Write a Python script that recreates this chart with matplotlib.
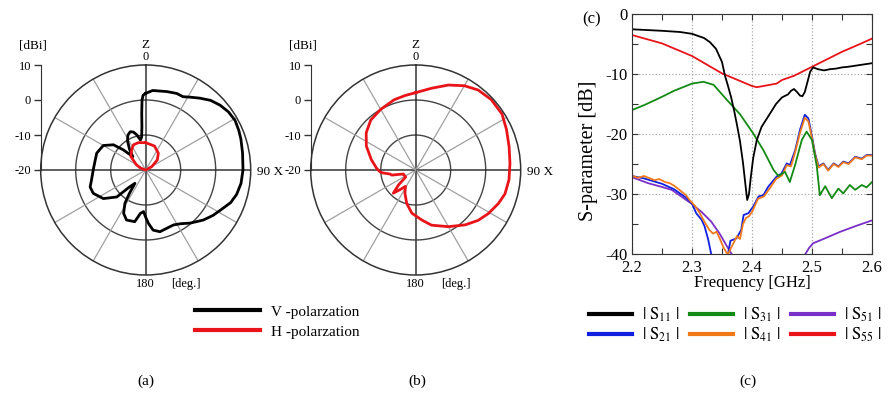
import numpy as np
import matplotlib.pyplot as plt
from matplotlib.lines import Line2D
from matplotlib.ticker import MultipleLocator

plt.rcParams['font.family'] = ['Liberation Serif', 'DejaVu Serif']
plt.rcParams['mathtext.fontset'] = 'stix'
plt.rcParams['axes.unicode_minus'] = False

W, H = 889, 398

# ---- radiation patterns (angle clockwise from Z, deg ; gain dBi) ----
v_ang = [0, 5, 15, 22, 27, 31, 37, 43, 49, 55, 61, 67, 72, 80, 90, 98, 105, 111,
         117, 124, 131, 140, 147, 153, 160, 167, 173, 177, 180, 183, 187, 192,
         201, 207, 212, 215, 219, 224, 227, 236, 246, 253, 260, 270, 280, 289,
         300, 308, 312, 316, 322, 328, 333, 338, 342, 346, 350, 353, 355, 356,
         357, 358, 360]
v_db = [1.9, 2.8, 3.2, 3.6, 3.5, 4.3, 5.7, 7.2, 8.2, 8.9, 9.2, 8.9, 8.6, 8.1,
        7.8, 7.5, 6.9, 6.0, 4.5, 3.2, 1.8, -0.2, -1.7, -2.4, -2.3, -1.9, -2.7,
        -4.7, -6.5, -8.1, -7.5, -4.9, -4.7, -6.1, -8.8, -12.0, -15.1, -13.1,
        -8.7, -5.4, -3.6, -3.4, -4.3, -5.0, -5.3, -5.2, -6.0, -8.3, -11.4,
        -14.7, -12.5, -10.2, -8.8, -8.2, -8.6, -9.7, -11.3, -10.5, -7.6, -3.8,
        0.0, 1.4, 1.9]

h_ang = [0, 20, 37, 49, 61, 75, 90, 270, 290, 299, 312, 325, 334, 345, 360]
h_db = [-12.2, -12.7, -14.0, -15.6, -18.0, -20.0, -20.0, -20.0, -18.5, -17.0,
        -14.3, -13.0, -12.0, -11.9, -12.2]

b_ang = [0, 11, 21, 30, 38, 47, 57, 66, 76, 86, 96, 105, 112, 121, 129, 138,
         150, 164, 173, 185, 195, 205, 212, 218, 224, 229, 235, 245, 252, 258,
         261, 265, 267, 272, 283, 296, 307, 318, 330, 343, 352, 360]
b_db = [2.1, 3.8, 6.0, 7.8, 9.0, 9.5, 9.4, 8.4, 7.5, 7.0, 6.8, 6.4, 5.5, 4.2,
        2.9, 1.1, -1.3, -3.6, -5.6, -7.6, -10.1, -12.7, -14.5, -13.0, -10.8,
        -13.5, -16.5, -16.4, -16.3, -13.0, -12.6, -10.5, -9.8, -8.9, -7.0, -4.3,
        -2.3, -0.8, 0.0, 1.0, 1.5, 2.1]

# ---- S-parameters (GHz ; dB) ----
s11_f = [2.20, 2.25, 2.28, 2.30, 2.32, 2.33, 2.34, 2.35, 2.355, 2.36, 2.365, 2.37,
         2.375, 2.38, 2.385, 2.389, 2.392, 2.395, 2.398, 2.402, 2.408, 2.416, 2.43,
         2.44, 2.45, 2.46, 2.465, 2.47, 2.475, 2.48, 2.484, 2.488, 2.492, 2.497,
         2.502, 2.51, 2.52, 2.53, 2.54, 2.55, 2.56, 2.58, 2.60]
s11_db = [-2.55, -2.8, -3.0, -3.3, -4.0, -4.7, -5.8, -8.0, -10.3, -12.0, -13.8,
          -16.0, -18.5, -21.2, -24.8, -28.4, -31.0, -30.0, -27.2, -24.0, -21.0,
          -18.8, -16.6, -15.0, -13.9, -13.4, -12.8, -12.5, -13.0, -13.6, -13.7,
          -13.0, -11.5, -9.6, -8.9, -9.2, -9.4, -9.2, -9.1, -8.9, -8.8, -8.5, -8.2]

s21_f = [2.20, 2.22, 2.25, 2.27, 2.28, 2.29, 2.30, 2.307, 2.316, 2.321, 2.327,
         2.332, 2.345, 2.360, 2.364, 2.374, 2.382, 2.386, 2.394, 2.402, 2.411,
         2.419, 2.427, 2.436, 2.441, 2.449, 2.458, 2.463, 2.472, 2.48, 2.488,
         2.494, 2.50, 2.505, 2.511, 2.519, 2.527, 2.536, 2.544, 2.552, 2.561,
         2.572, 2.583, 2.591, 2.60]
s21_db = [-27.0, -27.4, -28.3, -29.2, -29.9, -30.6, -31.6, -33.2, -34.3, -35.4,
          -37.6, -40.0, np.nan, -40.0, -37.8, -37.4, -36.0, -33.5, -33.2, -32.1,
          -30.4, -30.2, -28.8, -27.7, -27.1, -26.6, -24.9, -25.2, -22.7, -19.3,
          -16.8, -17.4, -20.4, -23.2, -25.4, -24.9, -26.0, -24.9, -25.4, -24.6,
          -24.9, -23.8, -24.1, -23.5, -23.5]

s31_f = [2.20, 2.22, 2.25, 2.27, 2.29, 2.30, 2.319, 2.336, 2.358, 2.38, 2.402,
         2.419, 2.436, 2.444, 2.455, 2.463, 2.472, 2.483, 2.491, 2.50, 2.508,
         2.513, 2.522, 2.533, 2.544, 2.552, 2.563, 2.572, 2.583, 2.591, 2.60]
s31_db = [-16.0, -15.2, -13.8, -12.8, -12.0, -11.6, -11.3, -11.8, -14.3, -16.7,
          -19.9, -22.7, -26.0, -27.0, -26.3, -28.0, -25.1, -21.0, -19.6, -21.0,
          -25.4, -30.2, -28.7, -30.7, -29.1, -29.9, -28.5, -29.3, -28.5, -28.9,
          -28.0]

s41_f = [2.20, 2.21, 2.22, 2.23, 2.238, 2.245, 2.255, 2.263, 2.27, 2.279, 2.29,
         2.296, 2.305, 2.313, 2.32, 2.329, 2.335, 2.341, 2.347, 2.352, 2.357,
         2.36, 2.365, 2.37, 2.375, 2.38, 2.385, 2.39, 2.395, 2.40, 2.41, 2.42,
         2.43, 2.44, 2.45, 2.458, 2.465, 2.472, 2.48, 2.488, 2.494, 2.50, 2.505,
         2.511, 2.519, 2.527, 2.536, 2.544, 2.552, 2.561, 2.572, 2.583, 2.591,
         2.60]
s41_db = [-27.0, -27.3, -27.0, -27.4, -27.7, -27.5, -28.0, -28.2, -28.6, -29.3,
          -30.2, -31.0, -32.0, -33.2, -34.5, -36.0, -36.6, -36.3, -37.6, -38.8,
          -39.7, -40.0, -39.0, -38.0, -37.0, -37.5, -35.0, -34.0, -33.7, -33.0,
          -30.8, -30.4, -29.0, -27.5, -26.9, -25.2, -25.4, -23.0, -19.8, -17.3,
          -17.9, -20.7, -23.4, -25.6, -25.0, -26.1, -25.0, -25.5, -24.7, -25.0,
          -23.9, -24.2, -23.6, -23.6]

s51_f = [2.20, 2.227, 2.249, 2.266, 2.282, 2.299, 2.316, 2.332, 2.346, 2.357,
         2.366, 2.43, 2.489, 2.495, 2.502, 2.519, 2.547, 2.574, 2.60]
s51_db = [-27.2, -28.2, -28.8, -29.3, -30.4, -31.6, -33.0, -34.6, -36.6, -38.5,
          -40.0, np.nan, -40.0, -39.0, -38.2, -37.5, -36.3, -35.3, -34.4]

s55_f = [2.20, 2.25, 2.30, 2.35, 2.40, 2.408, 2.441, 2.45, 2.47, 2.50, 2.53,
         2.55, 2.58, 2.60]
s55_db = [-3.5, -4.9, -7.0, -9.9, -12.0, -12.2, -11.6, -11.0, -10.3, -8.8, -7.3,
          -6.3, -5.0, -4.1]


def fx(px):
    return px / W


def fy(py):
    return 1 - py / H


fig = plt.figure(figsize=(W / 100, H / 100), dpi=100)


def polar_panel(cx, cy, curves):
    R = 105
    ax = fig.add_axes([fx(cx - R), fy(cy + R), 2 * R / W, 2 * R / H], projection='polar')
    ax.set_theta_zero_location('N')
    ax.set_theta_direction(-1)
    ax.set_ylim(-20, 10)
    ax.grid(False)
    ax.set_xticks([])
    ax.set_yticks([])
    ax.spines['polar'].set_color('#333333')
    ax.spines['polar'].set_linewidth(1.1)
    full = np.linspace(0, 2 * np.pi, 361)
    for r in (-10, 0):
        ax.plot(full, np.full_like(full, r), color='#444444', lw=1.0)
    for a in range(0, 360, 30):
        main = a % 90 == 0
        ax.plot([np.deg2rad(a)] * 2, [-20, 10], color='#333333' if main else '#a0a0a0',
                lw=1.1 if main else 0.9)
    for ang, db, col in curves:
        ax.plot(np.deg2rad(ang), db, color=col, lw=2.0)

    sc = fig.add_axes([fx(cx - R), fy(cy), 0.0001, R / H])
    sc.set_ylim(-20, 10)
    sc.set_yticks([-20, -10, 0, 10])
    sc.set_xticks([])
    for s in ('top', 'right', 'bottom'):
        sc.spines[s].set_visible(False)
    sc.spines['left'].set_color('#333333')
    sc.tick_params(axis='y', direction='out', length=5, width=1, color='#333333',
                   labelsize=9, pad=2)
    sc.patch.set_visible(False)

    fig.text(fx(cx - R - 8), fy(46), '[dBi]', ha='center', va='center', fontsize=9.5)
    fig.text(fx(cx), fy(45), 'Z', ha='center', va='center', fontsize=9.5)
    fig.text(fx(cx), fy(57), '0', ha='center', va='center', fontsize=9)
    fig.text(fx(cx + R + 6), fy(172), '90 X', ha='left', va='center', fontsize=9.5)
    fig.text(fx(cx), fy(284), '180', ha='center', va='center', fontsize=9)
    fig.text(fx(cx + 40), fy(284), '[deg.]', ha='center', va='center', fontsize=9)


polar_panel(145.7, 170, [(v_ang, v_db, 'black'), (h_ang, h_db, '#e8141a')])
polar_panel(415.7, 170, [(b_ang, b_db, '#e8141a')])

fig.legend([Line2D([], [], color='black', lw=3), Line2D([], [], color='#e8141a', lw=3)],
           ['V -polarzation', 'H -polarzation'], loc='upper left',
           bbox_to_anchor=(fx(195), fy(305)), frameon=False, fontsize=11,
           handlelength=4.25, handletextpad=0.75, labelspacing=0.42,
           borderaxespad=0, borderpad=0)

# ---- S-parameter panel ----
ax = fig.add_axes([fx(632), fy(254), 240 / W, 240 / H])
ax.plot(s51_f, s51_db, color='#7a2fc8', lw=1.3)
ax.plot(s21_f, s21_db, color='#1020e0', lw=1.3)
ax.plot(s41_f, s41_db, color='#f07a1a', lw=1.3)
ax.plot(s31_f, s31_db, color='#138a13', lw=1.3)
ax.plot(s55_f, s55_db, color='#e8141a', lw=1.3)
ax.plot(s11_f, s11_db, color='black', lw=1.3)
ax.set_xlim(2.2, 2.6)
ax.set_ylim(-40, 0)
ax.xaxis.set_major_locator(MultipleLocator(0.1))
ax.xaxis.set_minor_locator(MultipleLocator(0.05))
ax.yaxis.set_major_locator(MultipleLocator(10))
ax.yaxis.set_minor_locator(MultipleLocator(5))
ax.tick_params(which='both', direction='in', top=True, right=True, length=4,
               width=0.8, color='#333333')
ax.tick_params(axis='y', labelsize=12, pad=3)
ax.tick_params(axis='x', labelsize=12, pad=4.5)
ax.grid(True, which='major', ls=':', color='#aaaaaa', lw=0.9)
for s in ax.spines.values():
    s.set_color('#333333')
ax.set_xlabel('Frequency [GHz]', fontsize=12, labelpad=-1)
ax.set_ylabel('S-parameter [dB]', fontsize=14.5)
ax.yaxis.set_label_coords(-0.14, 0.43)
fig.text(fx(592), fy(19), '(c)', ha='center', va='center', fontsize=12)

s_cols = ['black', '#1020e0', '#138a13', '#f07a1a', '#7a2fc8', '#e8141a']
s_labs = [r'$|\ \mathrm{S}_{11}\ |$', r'$|\ \mathrm{S}_{21}\ |$',
          r'$|\ \mathrm{S}_{31}\ |$', r'$|\ \mathrm{S}_{41}\ |$',
          r'$|\ \mathrm{S}_{51}\ |$', r'$|\ \mathrm{S}_{55}\ |$']
fig.legend([Line2D([], [], color=c, lw=3) for c in s_cols], s_labs, ncol=3,
           loc='upper left', bbox_to_anchor=(fx(589), fy(306)), frameon=False,
           fontsize=12, handlelength=2.6, handletextpad=0.6, columnspacing=0.6,
           labelspacing=0.1, borderaxespad=0, borderpad=0)

for x, lab in ((146, '(a)'), (417, '(b)'), (748, '(c)')):
    fig.text(fx(x), fy(381), lab, ha='center', va='center', fontsize=11)

fig.savefig('out.png', dpi=100)
